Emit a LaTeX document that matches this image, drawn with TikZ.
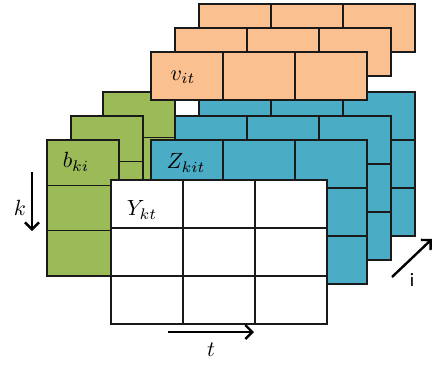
\documentclass[tikz,border=0pt]{standalone}
\usepackage{fontspec}
\newfontfamily\labelsans{Carlito}
\usetikzlibrary{arrows.meta}

\definecolor{cellorange}{HTML}{FAC090}
\definecolor{cellblue}{HTML}{4BACC6}
\definecolor{cellgreen}{HTML}{9BBB59}
\definecolor{gridline}{HTML}{1A1A1A}

\tikzset{
  cell/.style={draw=gridline, line width=1.2pt},
  axisarrow/.style={line width=2.4pt, -{Straight Barb[length=7pt,width=14pt]}},
  mathlabel/.style={inner sep=0pt},
  sanslabel/.style={font=\labelsans\fontsize{19}{21}\selectfont, inner sep=0pt},
}

% enlarged math label text
\newcommand\mlabel[1]{\scalebox{2.2}{$#1$}}

% \cellgrid{fill}{x0}{y0}{cols}{rows}{cell width}{cell height}
\newcommand\cellgrid[7]{%
  \foreach \c in {1,...,#4}{\foreach \r in {1,...,#5}{%
    \draw[cell, fill=#1] ({#2+(\c-1)*#6},{#3+(\r-1)*#7}) rectangle ++(#6,#7);
  }}}

\begin{document}
\begin{tikzpicture}[x=1pt, y=-1pt]
  \useasboundingbox (0,0) rectangle (433,365);

  % back layer
  \cellgrid{cellorange}{199}{4}{3}{1}{72}{48}
  \cellgrid{cellblue}{199}{92}{3}{3}{72}{48}
  \cellgrid{cellgreen}{103}{92}{1}{3}{72}{45.33}

  % middle layer
  \cellgrid{cellorange}{175}{28}{3}{1}{72}{48}
  \cellgrid{cellblue}{175}{116}{3}{3}{72}{48}
  \cellgrid{cellgreen}{71}{116}{1}{3}{72}{45.33}

  % front layer
  \cellgrid{cellorange}{151}{52}{3}{1}{72}{48}
  \cellgrid{cellblue}{151}{140}{3}{3}{72}{48}
  \cellgrid{cellgreen}{47}{140}{1}{3}{72}{45.33}

  % result matrix
  \cellgrid{white}{111}{180}{3}{3}{72}{48}

  % cell labels
  \node[mathlabel] (v) at (183,77) {\mlabel{v_{it}}};
  \node[mathlabel] (b) at (76,162) {\mlabel{b_{ki}}};
  \node[mathlabel] (z) at (186,163) {\mlabel{Z_{kit}}};
  \node[mathlabel] (y) at (142,210) {\mlabel{Y_{kt}}};

  % index directions
  \coordinate (ktail) at (32,172);
  \coordinate (khead) at (32,231);
  \draw[axisarrow] (ktail) -- (khead);
  \node[mathlabel] (klabel) at (20,208) {\mlabel{k}};

  \coordinate (ttail) at (168,332);
  \coordinate (thead) at (254,332);
  \draw[axisarrow] (ttail) -- (thead);
  \node[mathlabel] (tlabel) at (211,350) {\mlabel{t}};

  \coordinate (itail) at (392,277);
  \coordinate (ihead) at (432,239);
  \draw[axisarrow] (itail) -- (ihead);
  \node[sanslabel] (ilabel) at (412,280) {i};
\end{tikzpicture}
\end{document}
